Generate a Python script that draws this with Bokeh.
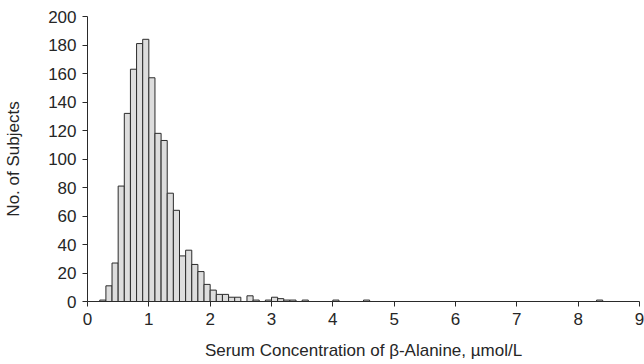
from bokeh.plotting import figure
from bokeh.models import FixedTicker, ColumnDataSource
from bokeh.embed import file_html
from bokeh.resources import INLINE

# Histogram data: bin lower edges (µmol/L) and counts (No. of subjects)
bin_width = 0.1
bin_left = [0.2, 0.3, 0.4, 0.5, 0.6, 0.7, 0.8, 0.9, 1.0, 1.1, 1.2, 1.3, 1.4, 1.5,
            1.6, 1.7, 1.8, 1.9, 2.0, 2.1, 2.2, 2.3, 2.4, 2.6, 2.7, 2.9, 3.0, 3.1,
            3.2, 3.3, 3.5, 4.0, 4.5, 8.3]
counts = [1, 11, 27, 81, 132, 163, 181, 184, 157, 118, 113, 76, 64, 32,
          36, 26, 21, 12, 8, 5, 5, 3, 3, 4, 1, 1, 3, 2,
          1, 1, 1, 1, 1, 1]
x_ticks = [0, 1, 2, 3, 4, 5, 6, 7, 8, 9]
y_ticks = [0, 20, 40, 60, 80, 100, 120, 140, 160, 180, 200]

src = ColumnDataSource(dict(
    left=bin_left,
    right=[b + bin_width for b in bin_left],
    top=counts,
    bottom=[0] * len(counts),
))

FONT = "Liberation Sans"
TXT = "#262626"
AX = "#2a2a2a"

p = figure(width=644, height=364, x_range=(0, 9), y_range=(0, 200),
           output_backend="svg", toolbar_location=None,
           min_border_left=87, min_border_right=5, min_border_top=16,
           min_border_bottom=63)
p.outline_line_color = None
p.grid.visible = False
p.background_fill_color = "white"

p.quad(left="left", right="right", top="top", bottom="bottom", source=src,
       fill_color="#dddddd", line_color="#2b2b2b", line_width=1)

for ax in (p.xaxis[0], p.yaxis[0]):
    ax.axis_line_color = AX
    ax.major_tick_line_color = AX
    ax.minor_tick_line_color = None
    ax.major_tick_in = 0
    ax.major_label_text_font = FONT
    ax.major_label_text_font_size = "17px"
    ax.major_label_text_color = TXT
    ax.axis_label_text_font = FONT
    ax.axis_label_text_font_size = "17px"
    ax.axis_label_text_font_style = "normal"
    ax.axis_label_text_color = TXT

p.xaxis.ticker = FixedTicker(ticks=x_ticks)
p.yaxis.ticker = FixedTicker(ticks=y_ticks)
p.xaxis.major_tick_out = 5
p.yaxis.major_tick_out = 5
p.xaxis.major_label_standoff = 6
p.yaxis.major_label_standoff = 6
p.xaxis.axis_label = "Serum Concentration of β-Alanine, µmol/L"
p.yaxis.axis_label = "No. of Subjects"
p.xaxis.axis_label_standoff = 13
p.yaxis.axis_label_standoff = 22

open("out.html", "w").write(file_html(p, INLINE))
